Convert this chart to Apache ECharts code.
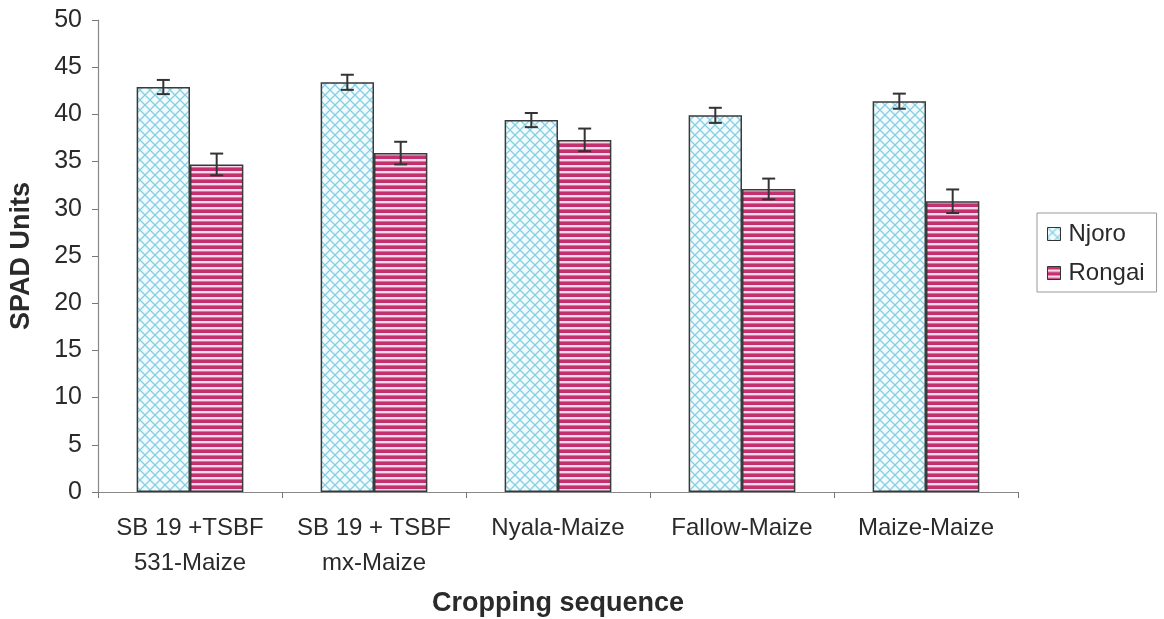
<!DOCTYPE html>
<html>
<head>
<meta charset="utf-8">
<script src="https://cdn.jsdelivr.net/npm/echarts@6/dist/echarts.min.js"></script>
<style>
html,body{margin:0;padding:0;background:#fff;}
#chart{width:1164px;height:619px;}
</style>
</head>
<body>
<div id="chart"></div>
<script>
const categories = ['SB 19 +TSBF\n531-Maize', 'SB 19 + TSBF\nmx-Maize', 'Nyala-Maize', 'Fallow-Maize', 'Maize-Maize'];
const seriesNames = ['Njoro', 'Rongai'];
const njoro = [42.9, 43.4, 39.4, 39.9, 41.4];
const njoroErr = [0.75, 0.8, 0.75, 0.8, 0.8];
const rongai = [34.7, 35.9, 37.3, 32.1, 30.8];
const rongaiErr = [1.15, 1.2, 1.2, 1.1, 1.25];

function makeCross() {
  const c = document.createElement('canvas');
  c.width = 10; c.height = 10;
  const g = c.getContext('2d');
  g.fillStyle = '#f2fbfd';
  g.fillRect(0, 0, 10, 10);
  g.strokeStyle = '#86cfe2';
  g.lineWidth = 1.3;
  g.beginPath();
  g.moveTo(-1, -1); g.lineTo(11, 11);
  g.moveTo(-1, 11); g.lineTo(11, -1);
  g.stroke();
  return c;
}
function makeStripe() {
  const c = document.createElement('canvas');
  c.width = 6; c.height = 6;
  const g = c.getContext('2d');
  g.fillStyle = '#c3306f';
  g.fillRect(0, 0, 6, 6);
  g.fillStyle = '#f7d9e8';
  g.fillRect(0, 3, 6, 2.4);
  return c;
}
const crossPat = { image: makeCross(), repeat: 'repeat' };
const stripePat = { image: makeStripe(), repeat: 'repeat' };

const errData = [];
njoro.forEach((v, i) => errData.push([i, v, njoroErr[i], -1]));
rongai.forEach((v, i) => errData.push([i, v, rongaiErr[i], 1]));

const chart = echarts.init(document.getElementById('chart'));
chart.setOption({
  animation: false,
  backgroundColor: '#fff',
  grid: { left: 98, right: 146, top: 20, bottom: 127, containLabel: false, outerBoundsMode: 'none' },
  legend: {
    data: seriesNames,
    orient: 'vertical',
    left: 1037, top: 213,
    padding: [9, 12, 7, 10],
    itemGap: 15,
    icon: 'rect',
    itemWidth: 13, itemHeight: 13,
    borderColor: '#999', borderWidth: 1,
    textStyle: { fontFamily: 'Liberation Sans', fontSize: 24, color: '#2a2a2a', padding: [0, 0, 0, 3] },
    itemStyle: { borderColor: '#333', borderWidth: 1 }
  },
  xAxis: {
    type: 'category',
    data: categories,
    boundaryGap: true,
    axisLine: { lineStyle: { color: '#888', width: 1.2 } },
    axisTick: { show: true, length: 6, lineStyle: { color: '#777' } },
    axisLabel: { fontFamily: 'Liberation Sans', fontSize: 24, lineHeight: 35, color: '#2a2a2a', margin: 19, interval: 0 },
    name: 'Cropping sequence',
    nameLocation: 'middle',
    nameGap: 98,
    nameTextStyle: { fontFamily: 'Liberation Sans', fontSize: 27, fontWeight: 'bold', color: '#2a2a2a' }
  },
  yAxis: {
    type: 'value',
    min: 0, max: 50, interval: 5,
    axisLine: { show: true, lineStyle: { color: '#888', width: 1.2 } },
    axisTick: { show: true, length: 6, lineStyle: { color: '#777' } },
    splitLine: { show: false },
    axisLabel: { fontFamily: 'Liberation Sans', fontSize: 25, color: '#2a2a2a', margin: 16 },
    name: 'SPAD Units',
    nameLocation: 'middle',
    nameGap: 63,
    nameTextStyle: { fontFamily: 'Liberation Sans', fontSize: 27, fontWeight: 'bold', color: '#2a2a2a' }
  },
  series: [
    {
      name: 'Njoro', type: 'bar', data: njoro,
      barGap: '0%', barCategoryGap: '42%',
      itemStyle: { color: crossPat, borderColor: '#3a3a3a', borderWidth: 1.5 }
    },
    {
      name: 'Rongai', type: 'bar', data: rongai,
      barGap: '0%', barCategoryGap: '42%',
      itemStyle: { color: stripePat, borderColor: '#3a3a3a', borderWidth: 1.5 }
    },
    {
      type: 'custom',
      z: 10,
      encode: { x: 0, y: 1 },
      data: errData,
      renderItem: function (params, api) {
        const cat = api.value(0), val = api.value(1), err = api.value(2), side = api.value(3);
        const catW = api.size([1, 0])[0];
        const barW = catW * 0.58 / 2;
        const c = api.coord([cat, val]);
        const x = c[0] + side * barW / 2;
        const top = api.coord([cat, val + err])[1];
        const bot = api.coord([cat, val - err])[1];
        const hw = 6.5;
        const st = { stroke: '#333', lineWidth: 2 };
        return {
          type: 'group',
          children: [
            { type: 'line', shape: { x1: x, y1: top, x2: x, y2: bot }, style: st },
            { type: 'line', shape: { x1: x - hw, y1: top, x2: x + hw, y2: top }, style: st },
            { type: 'line', shape: { x1: x - hw, y1: bot, x2: x + hw, y2: bot }, style: st }
          ]
        };
      }
    }
  ]
});
</script>
</body>
</html>
